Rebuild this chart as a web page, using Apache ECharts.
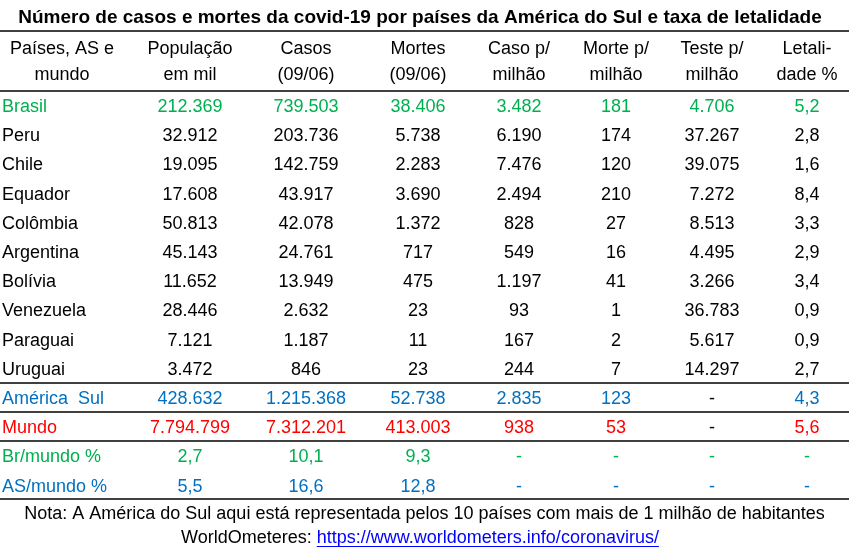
<!DOCTYPE html>
<html>
<head>
<meta charset="utf-8">
<script src="https://cdn.jsdelivr.net/npm/echarts@6/dist/echarts.min.js"></script>
<style>
  html, body { margin: 0; padding: 0; background: #fff; }
  #chart { width: 849px; height: 554px; }
</style>
</head>
<body>
<div id="chart"></div>
<script>
// dados (09/06)
const headers = ['Países, AS e\nmundo', 'População\nem mil', 'Casos\n(09/06)', 'Mortes\n(09/06)',
  'Caso p/\nmilhão', 'Morte p/\nmilhão', 'Teste p/\nmilhão', 'Letali-\ndade %']
const countries = ['Brasil', 'Peru', 'Chile', 'Equador', 'Colômbia', 'Argentina', 'Bolívia',
  'Venezuela', 'Paraguai', 'Uruguai', 'América  Sul', 'Mundo', 'Br/mundo %', 'AS/mundo %']
const population = [212369, 32912, 19095, 17608, 50813, 45143, 11652, 28446, 7121, 3472, 428632, 7794799, 2.7, 5.5]
const cases = [739503, 203736, 142759, 43917, 42078, 24761, 13949, 2632, 1187, 846, 1215368, 7312201, 10.1, 16.6]
const deaths = [38406, 5738, 2283, 3690, 1372, 717, 475, 23, 11, 23, 52738, 413003, 9.3, 12.8]
const casesPerMillion = [3482, 6190, 7476, 2494, 828, 549, 1197, 93, 167, 244, 2835, 938, null, null]
const deathsPerMillion = [181, 174, 120, 210, 27, 16, 41, 1, 2, 7, 123, 53, null, null]
const testsPerMillion = [4706, 37267, 39075, 7272, 8513, 4495, 3266, 36783, 5617, 14297, null, null, null, null]
const lethality = [5.2, 2.8, 1.6, 8.4, 3.3, 2.9, 3.4, 0.9, 0.9, 2.7, 4.3, 5.6, null, null]
const note = 'Nota: A América do Sul aqui está representada pelos 10 países com mais de 1 milhão de habitantes'
const source = 'WorldOmeteres: '
const link = 'https://www.worldometers.info/coronavirus/'

const columns = [population, cases, deaths, casesPerMillion, deathsPerMillion, testsPerMillion, lethality]

// layout
const FONT = '"Liberation Sans", Arial, sans-serif'
const FS = 18
const GREEN = '#00B050', BLUE = '#0070C0', RED = '#FF0000'
const rowColor = [GREEN, '#000', '#000', '#000', '#000', '#000', '#000', '#000', '#000', '#000', BLUE, RED, GREEN, BLUE]
const colX = [62, 190, 306, 418, 519, 616, 712, 807]
const nameX = 2
const rules = [-1.55, 0.5, 10.5, 11.5, 12.5, 14.5]

function fmt(v) {
  if (v === null) return '-'
  if (Number.isInteger(v)) return String(v).replace(/\B(?=(\d{3})+(?!\d))/g, '.')
  return v.toFixed(1).replace('.', ',')
}

const cells = []
headers.forEach((h, c) => {
  cells.push({name: h, value: [colX[c], 0], label: {offset: [0, -14], lineHeight: 26, color: '#000'}})
})
countries.forEach((country, r) => {
  cells.push({name: country, value: [nameX, r + 1], label: {align: 'left', color: rowColor[r]}})
  columns.forEach((col, c) => {
    let color = rowColor[r]
    // traço sem cor nas linhas América Sul / Mundo
    if (col[r] === null && (r === 10 || r === 11)) color = '#000'
    cells.push({name: fmt(col[r]), value: [colX[c + 1], r + 1], label: {color: color}})
  })
})

function measure(text, font) {
  const ctx = document.createElement('canvas').getContext('2d')
  ctx.font = font
  return ctx.measureText(text).width
}

const chart = echarts.init(document.getElementById('chart'))
const footFont = FS + 'px ' + FONT
const w1 = measure(source, footFont)
const w2 = measure(link, footFont)
const srcLeft = 420 - (w1 + w2) / 2

const option = {
  backgroundColor: '#fff',
  animation: false,
  title: {
    text: 'Número de casos e mortes da covid-19 por países da América do Sul e taxa de letalidade',
    left: 420,
    top: 8,
    textAlign: 'center',
    padding: 0,
    textStyle: {fontFamily: FONT, fontSize: 19, fontWeight: 'bold', color: '#000'}
  },
  grid: {left: 0, right: 0, top: 17.4, bottom: 40.2},
  xAxis: {type: 'value', min: 0, max: 849, show: false},
  yAxis: {type: 'value', min: -2, max: 15, inverse: true, show: false},
  series: [
    {
      type: 'scatter',
      symbolSize: 1,
      itemStyle: {color: 'rgba(0,0,0,0)', opacity: 1},
      silent: true,
      label: {
        show: true,
        position: 'inside',
        formatter: '{b}',
        offset: [0, 2],
        fontFamily: FONT,
        fontSize: FS,
        color: '#000'
      },
      data: cells,
      markLine: {
        silent: true,
        symbol: ['none', 'none'],
        label: {show: false},
        lineStyle: {color: '#000', width: 1.5, type: 'solid', opacity: 1},
        data: rules.map(v => ({yAxis: v}))
      }
    }
  ],
  graphic: [
    {
      type: 'text', left: 'center', top: 505,
      style: {text: note, font: footFont, fill: '#000'}
    },
    {
      type: 'text', x: srcLeft, y: 538,
      style: {text: source, font: footFont, fill: '#000', verticalAlign: 'middle'}
    },
    {
      type: 'text', x: srcLeft + w1, y: 538,
      style: {text: link, font: footFont, fill: '#0000FF', verticalAlign: 'middle'}
    },
    {
      type: 'line',
      shape: {x1: srcLeft + w1, y1: 546.5, x2: srcLeft + w1 + w2, y2: 546.5},
      style: {stroke: '#0000FF', lineWidth: 1}
    }
  ]
}
chart.setOption(option)
</script>
</body>
</html>
